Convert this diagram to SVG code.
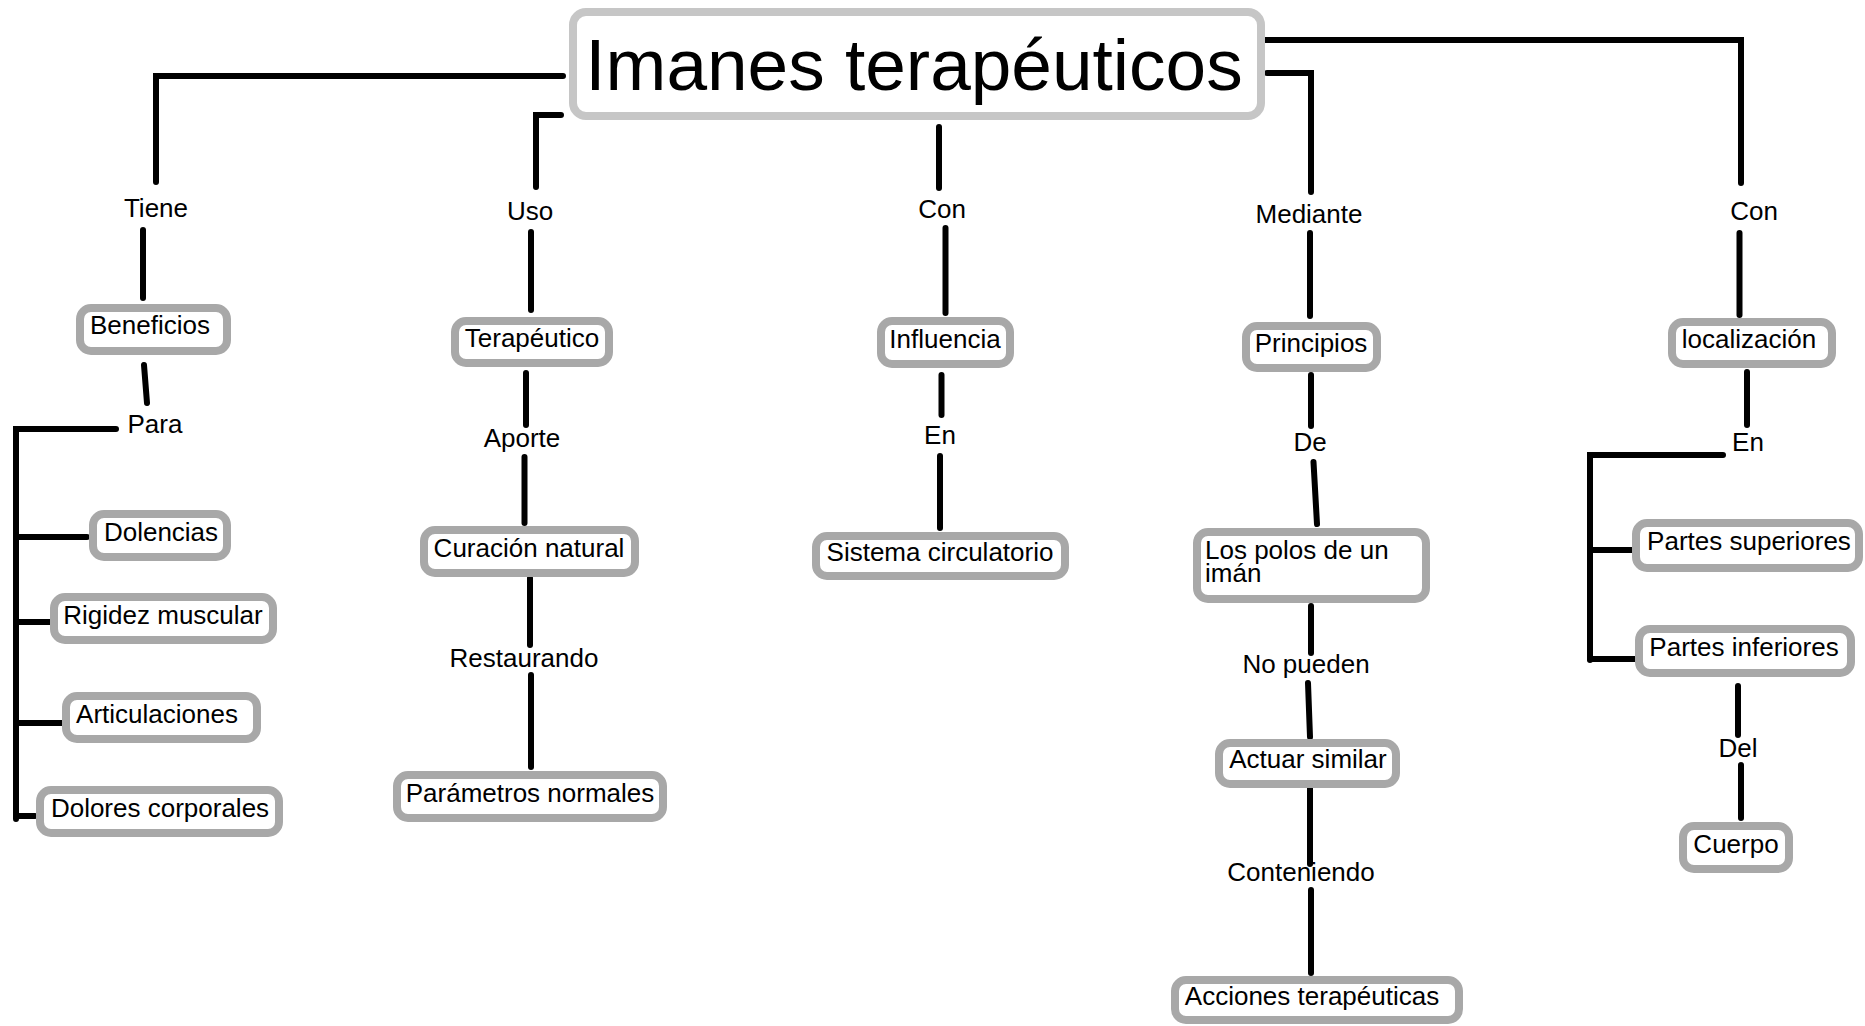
<svg xmlns="http://www.w3.org/2000/svg" width="1865" height="1026" viewBox="0 0 1865 1026">
<style>
.bg{fill:#ffffff}
.c{fill:none;stroke:#000;stroke-width:6;stroke-linecap:round;stroke-linejoin:miter}
.n rect{fill:#fff;stroke:#a8a8a8;stroke-width:8}
.m rect{fill:#fff;stroke:#c6c6c6;stroke-width:8}
text{font-family:"Liberation Sans",Arial,Helvetica,sans-serif;fill:#000;font-size:26px}
.t{text-anchor:middle}
.lbl{text-anchor:middle}
</style>
<rect class="bg" x="0" y="0" width="1865" height="1026"/>
<g id="connectors">
<path class="c" d="M563,76 H156 V182"/>
<path class="c" d="M143,230 V298"/>
<path class="c" d="M144,365 L147,403"/>
<path class="c" d="M116,429 H16 V819"/>
<path class="c" d="M16,537 H87"/>
<path class="c" d="M16,622 H51"/>
<path class="c" d="M16,723 H62"/>
<path class="c" d="M16,816 H35"/>
<path class="c" d="M561,115 H536 V187"/>
<path class="c" d="M531,232 V310"/>
<path class="c" d="M526,373 V425"/>
<path class="c" d="M524.5,457 V523"/>
<path class="c" d="M530,578 V645"/>
<path class="c" d="M531,675 V767"/>
<path class="c" d="M939,127 V188"/>
<path class="c" d="M945.5,228 V313"/>
<path class="c" d="M941.5,375 V415"/>
<path class="c" d="M940,456 V528"/>
<path class="c" d="M1264,40 H1741 V183"/>
<path class="c" d="M1267,73 H1311 V192"/>
<path class="c" d="M1310,233 V316"/>
<path class="c" d="M1311,375 V426"/>
<path class="c" d="M1313.5,462 L1317,524"/>
<path class="c" d="M1311,606 V653"/>
<path class="c" d="M1308,683 L1310,737"/>
<path class="c" d="M1310,786 V864"/>
<path class="c" d="M1311,890 V973"/>
<path class="c" d="M1739.5,233 V315"/>
<path class="c" d="M1747,372 V425"/>
<path class="c" d="M1723,455 H1590 V660"/>
<path class="c" d="M1590,550 H1633"/>
<path class="c" d="M1590,659 H1635"/>
<path class="c" d="M1738,686 V735"/>
<path class="c" d="M1741,765 V818"/>
</g>
<g id="labels">
<text class="lbl" x="156" y="217">Tiene</text>
<text class="lbl" x="155" y="433">Para</text>
<text class="lbl" x="530" y="220">Uso</text>
<text class="lbl" x="522" y="447">Aporte</text>
<text class="lbl" x="524" y="667">Restaurando</text>
<text class="lbl" x="942" y="218">Con</text>
<text class="lbl" x="940" y="444">En</text>
<text class="lbl" x="1309" y="223">Mediante</text>
<text class="lbl" x="1310" y="451">De</text>
<text class="lbl" x="1306" y="673">No pueden</text>
<text class="lbl" x="1301" y="881">Conteniendo</text>
<text class="lbl" x="1754" y="220">Con</text>
<text class="lbl" x="1748" y="451">En</text>
<text class="lbl" x="1738" y="757">Del</text>
</g>
<g id="n-main" class="m"><rect x="573" y="12" width="688" height="104" rx="13"/><text class="t" x="914" y="90" style="font-size:73px">Imanes terapéuticos</text></g>
<g id="n-beneficios" class="n"><rect x="80" y="308" width="147" height="43" rx="11"/><text class="t" x="150" y="334">Beneficios</text></g>
<g id="n-terapeutico" class="n"><rect x="455" y="321" width="154" height="42" rx="11"/><text class="t" x="532" y="347">Terapéutico</text></g>
<g id="n-influencia" class="n"><rect x="881" y="321" width="129" height="43" rx="11"/><text class="t" x="945" y="348">Influencia</text></g>
<g id="n-principios" class="n"><rect x="1246" y="326" width="131" height="42" rx="11"/><text class="t" x="1311" y="352">Principios</text></g>
<g id="n-localizacion" class="n"><rect x="1672" y="322" width="160" height="42" rx="11"/><text class="t" x="1749" y="348">localización</text></g>
<g id="n-dolencias" class="n"><rect x="93" y="514" width="134" height="43" rx="11"/><text class="t" x="161" y="541">Dolencias</text></g>
<g id="n-rigidez" class="n"><rect x="54" y="597" width="219" height="43" rx="11"/><text class="t" x="163" y="624">Rigidez muscular</text></g>
<g id="n-articulaciones" class="n"><rect x="66" y="696" width="191" height="43" rx="11"/><text class="t" x="157" y="723">Articulaciones</text></g>
<g id="n-dolores" class="n"><rect x="40" y="790" width="239" height="43" rx="11"/><text class="t" x="160" y="817">Dolores corporales</text></g>
<g id="n-curacion" class="n"><rect x="424" y="530" width="211" height="43" rx="11"/><text class="t" x="529" y="557">Curación natural</text></g>
<g id="n-parametros" class="n"><rect x="397" y="775" width="266" height="43" rx="11"/><text class="t" x="530" y="802">Parámetros normales</text></g>
<g id="n-sistema" class="n"><rect x="816" y="536" width="249" height="40" rx="11"/><text class="t" x="940" y="561">Sistema circulatorio</text></g>
<g id="n-polos" class="n"><rect x="1197" y="532" width="229" height="67" rx="11"/><text x="1205" y="559">Los polos de un</text><text x="1205" y="582">imán</text></g>
<g id="n-actuar" class="n"><rect x="1219" y="743" width="177" height="41" rx="11"/><text class="t" x="1308" y="768">Actuar similar</text></g>
<g id="n-acciones" class="n"><rect x="1175" y="980" width="284" height="40" rx="11"/><text class="t" x="1312" y="1005">Acciones terapéuticas</text></g>
<g id="n-superiores" class="n"><rect x="1636" y="523" width="223" height="45" rx="11"/><text class="t" x="1749" y="550">Partes superiores</text></g>
<g id="n-inferiores" class="n"><rect x="1639" y="629" width="212" height="44" rx="11"/><text class="t" x="1744" y="656">Partes inferiores</text></g>
<g id="n-cuerpo" class="n"><rect x="1683" y="826" width="106" height="43" rx="11"/><text class="t" x="1736" y="853">Cuerpo</text></g>
</svg>
